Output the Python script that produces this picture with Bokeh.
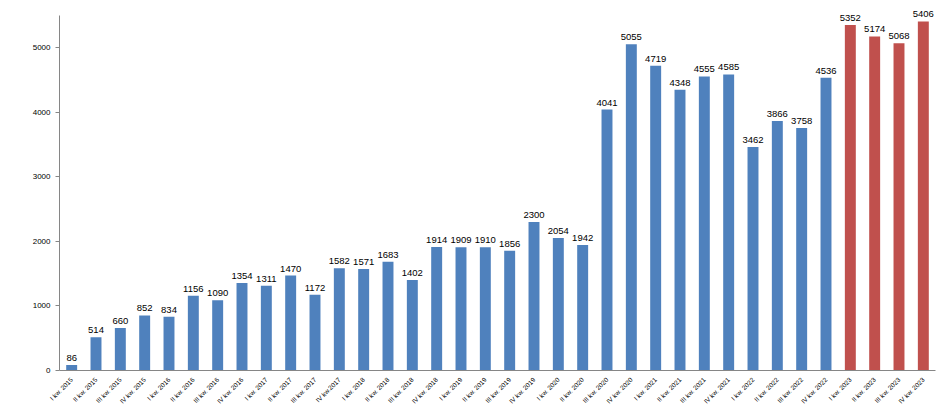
import math
from bokeh.plotting import figure
from bokeh.models import ColumnDataSource, FactorRange, Range1d, FixedTicker, LabelSet
from bokeh.core.properties import value
from bokeh.embed import file_html
from bokeh.resources import INLINE

categories = [
    "I kw. 2015", "II kw. 2015", "III kw. 2015", "IV kw. 2015",
    "I kw. 2016", "II kw. 2016", "III kw. 2016", "IV kw. 2016",
    "I kw. 2017", "II kw. 2017", "III kw. 2017", "IV kw.2017",
    "I kw. 2018", "II kw. 2018", "III kw. 2018", "IV kw. 2018",
    "I kw. 2019", "II kw. 2019", "III kw. 2019", "IV kw. 2019",
    "I kw. 2020", "II kw. 2020", "III kw. 2020", "IV kw. 2020",
    "I kw. 2021", "II kw. 2021", "III kw. 2021", "IV kw. 2021",
    "I kw. 2022", "II kw. 2022", "III kw. 2022", "IV kw. 2022",
    "I kw. 2023", "II kw. 2023", "III kw. 2023", "IV kw. 2023",
]
values = [
    86, 514, 660, 852, 834, 1156, 1090, 1354, 1311, 1470, 1172, 1582,
    1571, 1683, 1402, 1914, 1909, 1910, 1856, 2300, 2054, 1942, 4041, 5055,
    4719, 4348, 4555, 4585, 3462, 3866, 3758, 4536, 5352, 5174, 5068, 5406,
]
highlight_years = ["2023"]
y_ticks = [0, 1000, 2000, 3000, 4000, 5000]

BLUE = "#4F81BD"
RED = "#C0504D"
colors = [RED if c.endswith(tuple(highlight_years)) else BLUE for c in categories]

src = ColumnDataSource(dict(cat=categories, val=values, color=colors,
                            label=[str(v) for v in values]))

p = figure(x_range=FactorRange(*categories, range_padding=0),
           y_range=Range1d(0, 5700),
           width=948, height=410, output_backend="svg", toolbar_location=None,
           min_border_left=59, min_border_right=13, min_border_top=2, min_border_bottom=30)
p.outline_line_color = None
p.background_fill_color = "white"
p.border_fill_color = "white"
p.xgrid.grid_line_color = None
p.ygrid.grid_line_color = None

p.vbar(x="cat", top="val", width=0.45, fill_color="color", line_color=None, source=src)

labels = LabelSet(x="cat", y="val", text="label", source=src, text_align="center",
                  text_baseline="bottom", y_offset=4, text_font_size="9.5px",
                  text_font=value("Liberation Sans"), text_color="#000000")
p.add_layout(labels)

p.yaxis.ticker = FixedTicker(ticks=y_ticks)
p.yaxis.bounds = (0, 5500)
p.yaxis.major_label_text_font_size = "8px"
p.yaxis.major_label_text_font = "Liberation Sans"
p.yaxis.major_label_text_color = "#000000"
p.yaxis.axis_line_color = "#868686"
p.yaxis.major_tick_line_color = "#868686"
p.yaxis.major_tick_out = 4
p.yaxis.major_tick_in = 0
p.yaxis.minor_tick_line_color = None

p.xaxis.major_label_orientation = math.pi / 4
p.xaxis.major_label_text_font_size = "6.5px"
p.xaxis.major_label_text_font = "Liberation Sans"
p.xaxis.major_label_text_color = "#000000"
p.xaxis.axis_line_color = "#868686"
p.xaxis.major_tick_line_color = None
p.xaxis.major_label_standoff = 2

open("out.html", "w").write(file_html(p, INLINE))
